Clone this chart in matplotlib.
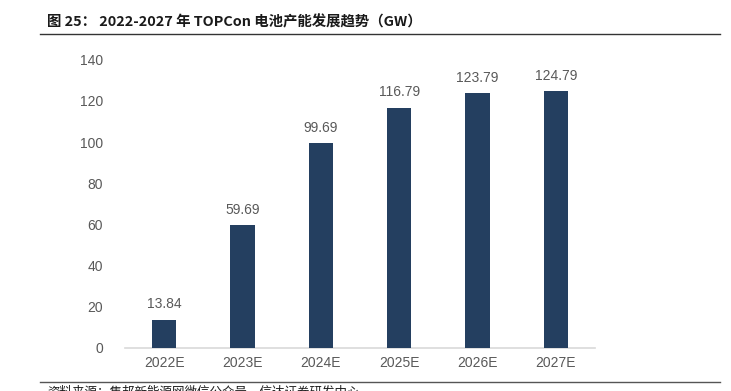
import matplotlib.pyplot as plt
from matplotlib.lines import Line2D

# data
years = ["2022E", "2023E", "2024E", "2025E", "2026E", "2027E"]
capacity = [13.84, 59.69, 99.69, 116.79, 123.79, 124.79]

title = "图 25： 2022-2027 年 TOPCon 电池产能发展趋势（GW）"
source = "资料来源：集邦新能源网微信公众号，信达证券研发中心"

bar_color = "#243F60"
text_color = "#595959"

fig = plt.figure(figsize=(7.31, 3.91), dpi=100)
ax = fig.add_axes([0.171, 0.110, 0.643, 0.737])

x = range(len(years))
ax.bar(x, capacity, width=0.31, color=bar_color, zorder=3)

# value labels
for i, v in zip(x, capacity):
    ax.text(i, v + 4, f"{v:.2f}", ha="center", va="bottom",
            fontsize=10, color=text_color, family="Liberation Sans")

ax.set_xlim(-0.5, len(years) - 0.5)
ax.set_ylim(0, 140)
ax.set_yticks(range(0, 141, 20))
ax.set_xticks(list(x))
ax.set_xticklabels(years)

for lab in ax.get_xticklabels() + ax.get_yticklabels():
    lab.set_family("Liberation Sans")
    lab.set_fontsize(10)
    lab.set_color(text_color)

ax.tick_params(axis="both", length=0)
ax.tick_params(axis="y", pad=16)
ax.tick_params(axis="x", pad=6)
for s in ["top", "right", "left"]:
    ax.spines[s].set_visible(False)
ax.spines["bottom"].set_color("#D9D9D9")
ax.spines["bottom"].set_linewidth(1.2)

# title and frame lines
fig.text(47 / 731, 1 - 22 / 391, title, ha="left", va="center",
         fontsize=10.4, fontweight="bold", color="#1a1a1a",
         family=["Noto Sans CJK SC", "DejaVu Sans"])
fig.add_artist(Line2D([40 / 731, 720 / 731], [1 - 34 / 391, 1 - 34 / 391],
                      color="#333333", lw=1.0))
fig.add_artist(Line2D([40 / 731, 720 / 731], [1 - 382 / 391, 1 - 382 / 391],
                      color="#555555", lw=1.0))
# source line sits at the very bottom edge, partly cut as in the original page
fig.text(47 / 731, 1 - 392 / 391, source, ha="left", va="center",
         fontsize=9, style="italic", color="#1a1a1a",
         family=["Noto Sans CJK SC", "DejaVu Sans"])

plt.savefig("out.png", dpi=100)
